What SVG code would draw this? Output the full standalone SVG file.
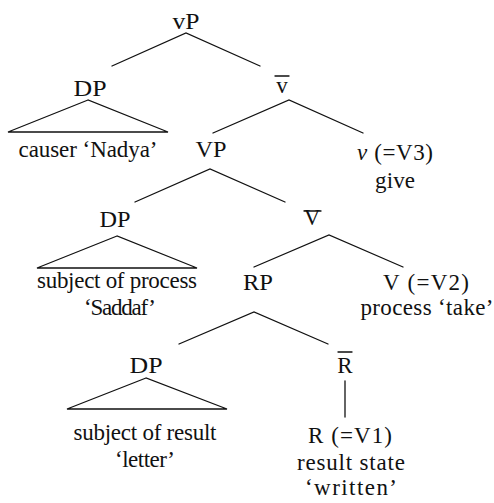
<svg xmlns="http://www.w3.org/2000/svg" width="494" height="503" viewBox="0 0 494 503">
<style>
text{font-family:"Liberation Serif","Times New Roman",serif;font-size:23px;fill:#111;text-anchor:middle}
.l{stroke:#111;stroke-width:1.3;fill:none;stroke-linecap:round}
.i{font-style:italic}
</style>
<rect width="494" height="503" fill="#fff"/>
<g id="connectors">
<polyline class="l" points="112,66 186,33 260,66"/>
<polyline class="l" points="213,133 289,100 363,133"/>
<polyline class="l" points="135,202 210,169 285,202"/>
<polyline class="l" points="254,267 329,235 403,267"/>
<polyline class="l" points="179,344 254,312 328,344"/>
<line class="l" x1="345" y1="381" x2="345" y2="417"/>
</g>
<g id="vP"><text x="186" y="29" textLength="27" lengthAdjust="spacingAndGlyphs">vP</text></g>
<g id="DP1">
<text x="90" y="96" textLength="33" lengthAdjust="spacingAndGlyphs">DP</text>
<polygon class="l" points="88,100 8,132 168,132"/>
<text x="88" y="157" textLength="139" lengthAdjust="spacing">causer ‘Nadya’</text>
</g>
<g id="vbar"><text x="282" y="93">v</text><line class="l" x1="275" y1="76" x2="289" y2="76"/></g>
<g id="VP"><text x="211" y="157" textLength="31" lengthAdjust="spacingAndGlyphs">VP</text></g>
<g id="v3"><text x="395" y="160" textLength="76" lengthAdjust="spacing"><tspan class="i">ν</tspan> (=V3)</text><text x="395" y="188" textLength="40" lengthAdjust="spacing">give</text></g>
<g id="DP2">
<text x="115" y="227" textLength="31" lengthAdjust="spacingAndGlyphs">DP</text>
<polygon class="l" points="117,236 37,268 197,268"/>
<text x="117" y="288" textLength="160" lengthAdjust="spacing">subject of process</text>
<text x="120" y="315" textLength="72" lengthAdjust="spacing">‘Saddaf’</text>
</g>
<g id="Vbar"><text x="312" y="225">V</text><line class="l" x1="304" y1="211" x2="321" y2="211"/></g>
<g id="RP"><text x="258" y="290" textLength="30" lengthAdjust="spacingAndGlyphs">RP</text></g>
<g id="V2"><text x="426" y="290" textLength="86" lengthAdjust="spacing">V (=V2)</text><text x="427" y="315" textLength="133" lengthAdjust="spacing">process ‘take’</text></g>
<g id="DP3">
<text x="146" y="373" textLength="33" lengthAdjust="spacingAndGlyphs">DP</text>
<polygon class="l" points="146,378 67,409 227,409"/>
<text x="145" y="440" textLength="143" lengthAdjust="spacing">subject of result</text>
<text x="145" y="467" textLength="60" lengthAdjust="spacing">‘letter’</text>
</g>
<g id="Rbar"><text x="345" y="373">R</text><line class="l" x1="338" y1="352" x2="352" y2="352"/></g>
<g id="V1">
<text x="350" y="443" textLength="84" lengthAdjust="spacing">R (=V1)</text>
<text x="351" y="470" textLength="108" lengthAdjust="spacing">result state</text>
<text x="351" y="495" textLength="92" lengthAdjust="spacing">‘written’</text>
</g>
</svg>
